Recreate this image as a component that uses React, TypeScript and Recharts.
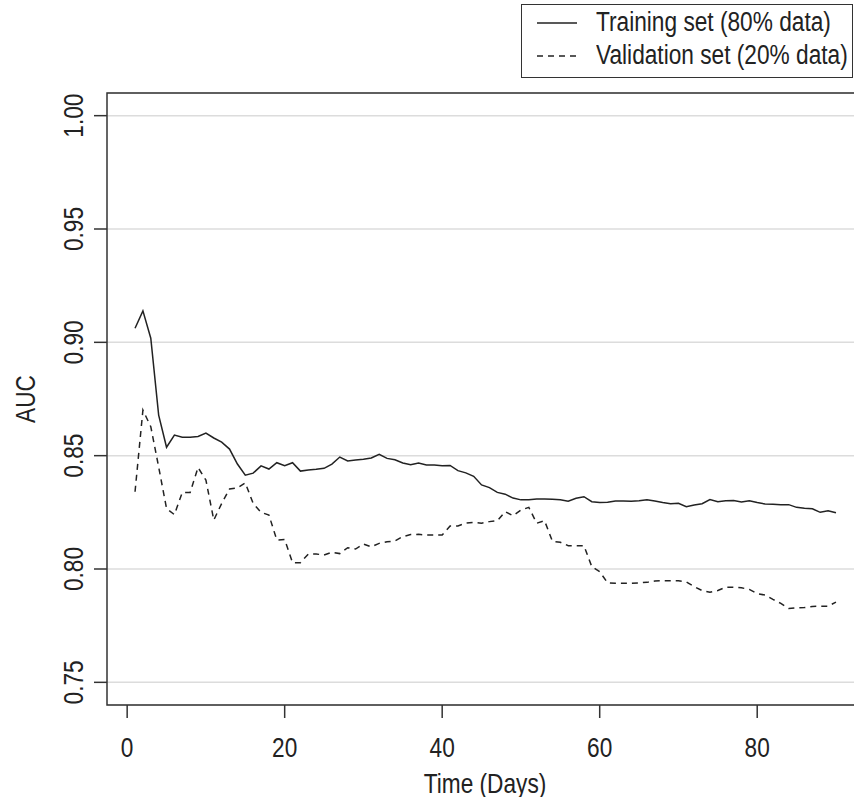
import React from 'react';
import { LineChart, Line, XAxis, YAxis, CartesianGrid, ReferenceArea, Legend, Label } from 'recharts';

const days = [1,2,3,4,5,6,7,8,9,10,11,12,13,14,15,16,17,18,19,20,21,22,23,24,25,26,27,28,29,30,31,32,33,34,35,36,37,38,39,40,41,42,43,44,45,46,47,48,49,50,51,52,53,54,55,56,57,58,59,60,61,62,63,64,65,66,67,68,69,70,71,72,73,74,75,76,77,78,79,80,81,82,83,84,85,86,87,88,89,90];

const trainAUC = [
  0.9062, 0.9139, 0.9018, 0.8679, 0.8537, 0.8591, 0.8581, 0.8581, 0.8585, 0.8600,
  0.8578, 0.8560, 0.8529, 0.8463, 0.8414, 0.8423, 0.8455, 0.8441, 0.8469, 0.8456,
  0.8469, 0.8432, 0.8437, 0.8440, 0.8444, 0.8463, 0.8494, 0.8477, 0.8481, 0.8484,
  0.8490, 0.8506, 0.8488, 0.8482, 0.8468, 0.8460, 0.8468, 0.8459, 0.8459, 0.8456,
  0.8457, 0.8434, 0.8424, 0.8409, 0.8371, 0.8359, 0.8338, 0.8330, 0.8313, 0.8305,
  0.8306, 0.8309, 0.8309, 0.8308, 0.8305, 0.8299, 0.8312, 0.8319, 0.8297, 0.8293,
  0.8295, 0.8300, 0.8300, 0.8299, 0.8301, 0.8305, 0.8300, 0.8293, 0.8288, 0.8290,
  0.8275, 0.8282, 0.8288, 0.8306, 0.8297, 0.8301, 0.8302, 0.8296, 0.8301, 0.8293,
  0.8287, 0.8286, 0.8284, 0.8284, 0.8272, 0.8268, 0.8266, 0.8250, 0.8257, 0.8248,
];

const validAUC = [
  0.8341, 0.8701, 0.8628, 0.8450, 0.8267, 0.8240, 0.8338, 0.8338, 0.8448, 0.8392,
  0.8216, 0.8289, 0.8353, 0.8358, 0.8380, 0.8289, 0.8250, 0.8238, 0.8128, 0.8130,
  0.8028, 0.8028, 0.8066, 0.8066, 0.8062, 0.8074, 0.8068, 0.8094, 0.8088, 0.8110,
  0.8098, 0.8113, 0.8120, 0.8124, 0.8143, 0.8152, 0.8153, 0.8150, 0.8150, 0.8150,
  0.8190, 0.8190, 0.8202, 0.8206, 0.8202, 0.8209, 0.8213, 0.8253, 0.8235, 0.8260,
  0.8272, 0.8202, 0.8213, 0.8122, 0.8118, 0.8103, 0.8103, 0.8103, 0.8010, 0.7988,
  0.7939, 0.7937, 0.7937, 0.7937, 0.7939, 0.7941, 0.7947, 0.7948, 0.7948, 0.7948,
  0.7943, 0.7922, 0.7905, 0.7897, 0.7905, 0.7920, 0.7920, 0.7917, 0.7910, 0.7891,
  0.7885, 0.7866, 0.7848, 0.7826, 0.7829, 0.7830, 0.7835, 0.7836, 0.7836, 0.7854,
];

const xTicks = [0, 20, 40, 60, 80];
const yTicks = [0.75, 0.8, 0.85, 0.9, 0.95, 1.0];
const xDomain: [number, number] = [-2.56, 93.56];
const yDomain: [number, number] = [0.74, 1.01];

const seriesNames = ['Training set (80% data)', 'Validation set (20% data)'];

const data = days.map((d, i) => ({ day: d, train: trainAUC[i], valid: validAUC[i] }));

const FONT = '"Liberation Sans", Arial, Helvetica, sans-serif';
const INK = '#222';
const FS = 27;
const SX = 0.84;

const NText = ({ x, y, rot = 0, children }: { x: number; y: number; rot?: number; children: React.ReactNode }) => (
  <g transform={`translate(${x}, ${y}) rotate(${rot}) scale(${SX}, 1)`}>
    <text x={0} y={0} textAnchor="middle" fontFamily={FONT} fontSize={FS} fill={INK}>
      {children}
    </text>
  </g>
);

const XTick = (props: any) => {
  const { x, payload } = props;
  return <NText x={x} y={757}>{String(payload.value)}</NText>;
};

const YTick = (props: any) => {
  const { y, payload } = props;
  return <NText x={83} y={y} rot={-90}>{Number(payload.value).toFixed(2)}</NText>;
};

const legendText: React.CSSProperties = {
  position: 'absolute',
  left: 74,
  whiteSpace: 'nowrap',
  lineHeight: '30px',
  transform: `scaleX(${SX})`,
  transformOrigin: 'left center',
};

const renderLegend = () => (
  <div
    style={{
      width: 332,
      height: 74,
      border: '1.5px solid #333',
      boxSizing: 'border-box',
      background: '#fff',
      fontFamily: FONT,
      fontSize: FS,
      color: INK,
      position: 'relative',
    }}
  >
    <svg width={70} height={74} style={{ position: 'absolute', left: 0, top: 0 }}>
      <line x1={15} x2={55} y1={18} y2={18} stroke={INK} strokeWidth={1.5} />
      <line x1={15} x2={55} y1={51} y2={51} stroke={INK} strokeWidth={1.5} strokeDasharray="6 5" />
    </svg>
    <div style={{ ...legendText, top: 2 }}>{seriesNames[0]}</div>
    <div style={{ ...legendText, top: 35 }}>{seriesNames[1]}</div>
  </div>
);

export default function App() {
  return (
    <div style={{ position: 'absolute', left: 0, top: 0, width: 854, height: 797, overflow: 'hidden', background: '#fff' }}>
      <LineChart
        width={880}
        height={797}
        data={data}
        margin={{ top: 93, right: 16, bottom: 0, left: 47 }}
      >
        <CartesianGrid horizontal vertical={false} stroke="#dcdcdc" strokeWidth={1.5} />
        <XAxis
          type="number"
          dataKey="day"
          domain={xDomain}
          ticks={xTicks}
          allowDataOverflow
          height={92}
          axisLine={false}
          tickLine={{ stroke: '#333', strokeWidth: 1.5 }}
          tickSize={13}
          tick={<XTick />}
        >
          <Label content={() => <NText x={485} y={793}>Time (Days)</NText>} />
        </XAxis>
        <YAxis
          type="number"
          domain={yDomain}
          ticks={yTicks}
          allowDataOverflow
          width={60}
          axisLine={false}
          tickLine={{ stroke: '#333', strokeWidth: 1.5 }}
          tickSize={13}
          tick={<YTick />}
        >
          <Label content={() => <NText x={35} y={399} rot={-90}>AUC</NText>} />
        </YAxis>
        <ReferenceArea x1={xDomain[0]} x2={xDomain[1]} y1={yDomain[0]} y2={yDomain[1]} fill="none" stroke="#333" strokeWidth={1.5} ifOverflow="visible" />
        <Line type="linear" dataKey="train" name={seriesNames[0]} stroke={INK} strokeWidth={1.5} dot={false} isAnimationActive={false} />
        <Line type="linear" dataKey="valid" name={seriesNames[1]} stroke={INK} strokeWidth={1.5} strokeDasharray="6 5" dot={false} isAnimationActive={false} />
        <Legend
          layout="horizontal"
          verticalAlign="middle"
          content={renderLegend}
          wrapperStyle={{ position: 'absolute', left: 521, top: 4, width: 332, height: 74 }}
        />
      </LineChart>
    </div>
  );
}
